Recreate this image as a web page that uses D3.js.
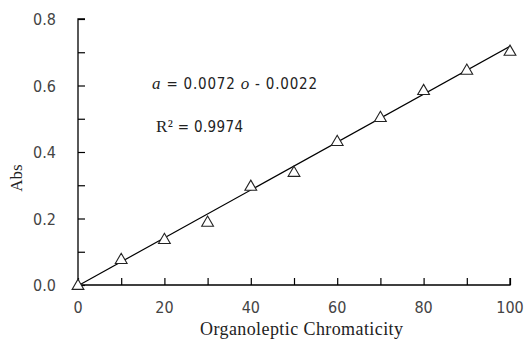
<!DOCTYPE html>
<html>
<head>
<meta charset="utf-8">
<script src="https://cdn.jsdelivr.net/npm/d3@7"></script>
<style>
  body { margin: 0; background: #fff; }
  svg { display: block; }
</style>
</head>
<body>
<svg id="chart" width="525" height="339"></svg>
<script>
// data
var chromaticity = [0, 10, 20, 30, 40, 50, 60, 70, 80, 90, 100];
var absValues = [0.0, 0.078, 0.138, 0.19, 0.298, 0.34, 0.433, 0.505, 0.586, 0.647, 0.704];
var fitSlope = 0.0072;
var fitIntercept = -0.0022;
var xTickLabels = [0, 20, 40, 60, 80, 100];
var yTickLabels = [0.0, 0.2, 0.4, 0.6, 0.8];

var svg = d3.select("#chart");
var margin = {left: 78, right: 15, top: 19, bottom: 54};
var W = 525, H = 339;

var x = d3.scaleLinear().domain([0, 100]).range([margin.left, W - margin.right]);
var y = d3.scaleLinear().domain([0, 0.8]).range([H - margin.bottom, margin.top]);

var tickFont = "'DejaVu Sans Condensed', 'DejaVu Sans', sans-serif";
var serif = "'Liberation Serif', 'DejaVu Serif', serif";

// y axis (ticks inward)
var yAxis = svg.append("g")
    .attr("transform", "translate(" + margin.left + ",0)")
    .call(d3.axisRight(y).tickValues(d3.range(0, 0.81, 0.1)).tickSize(7).tickFormat(""));
yAxis.select(".domain").attr("stroke", "#000").attr("stroke-width", 1.3).attr("d", "M0," + y(0) + "V" + y(0.8) + "h7");

svg.selectAll(".ylab")
    .data(yTickLabels)
    .enter().append("text")
    .attr("class", "ylab")
    .attr("x", margin.left - 22)
    .attr("y", function (d) { return y(d) + 6; })
    .attr("text-anchor", "end")
    .style("font-family", tickFont)
    .style("font-size", "16px")
    .style("fill", "#444")
    .text(function (d) { return d3.format(".1f")(d); });

// x axis (ticks inward)
var xAxis = svg.append("g")
    .attr("transform", "translate(0," + y(0) + ")")
    .call(d3.axisTop(x).tickValues(d3.range(0, 101, 10)).tickSize(7).tickFormat(""));
xAxis.select(".domain").attr("stroke", "#000").attr("stroke-width", 1.3).attr("d", "M" + x(0) + ",0H" + x(100) + "v-7");

svg.selectAll(".xlab")
    .data(xTickLabels)
    .enter().append("text")
    .attr("class", "xlab")
    .attr("x", function (d) { return x(d); })
    .attr("y", y(0) + 28)
    .attr("text-anchor", "middle")
    .style("font-family", tickFont)
    .style("font-size", "16px")
    .style("fill", "#444")
    .text(function (d) { return d; });

svg.selectAll(".tick line").attr("stroke", "#000").attr("stroke-width", 1.2);

// trend line
svg.append("line")
    .attr("x1", x(0)).attr("y1", y(fitIntercept))
    .attr("x2", x(100)).attr("y2", y(fitSlope * 100 + fitIntercept))
    .attr("stroke", "#000")
    .attr("stroke-width", 1.2);

// points as open triangles
var tri = d3.symbol().type(d3.symbolTriangle).size(60);
svg.selectAll(".pt")
    .data(chromaticity)
    .enter().append("path")
    .attr("class", "pt")
    .attr("d", tri)
    .attr("transform", function (d, i) { return "translate(" + x(d) + "," + (y(absValues[i]) + 1) + ")"; })
    .attr("fill", "#fff")
    .attr("stroke", "#222")
    .attr("stroke-width", 1.1);

// equation
var eq = svg.append("text")
    .attr("x", 152).attr("y", 89)
    .attr("textLength", 165)
    .attr("lengthAdjust", "spacing")
    .style("font-family", tickFont)
    .style("font-size", "15px")
    .style("fill", "#222");
eq.append("tspan").style("font-family", serif).style("font-style", "italic").style("font-size", "17px").text("a");
eq.append("tspan").text(" = 0.0072 ");
eq.append("tspan").style("font-family", serif).style("font-style", "italic").style("font-size", "17px").text("o");
eq.append("tspan").text(" - 0.0022");

var r2 = svg.append("text")
    .attr("x", 156).attr("y", 132)
    .attr("textLength", 87)
    .attr("lengthAdjust", "spacing")
    .style("font-family", tickFont)
    .style("font-size", "15px")
    .style("fill", "#222");
r2.append("tspan").style("font-family", serif).style("font-size", "17px").text("R\u00b2");
r2.append("tspan").text(" = 0.9974");

// axis titles
svg.append("text")
    .attr("transform", "translate(22,178) rotate(-90)")
    .attr("text-anchor", "middle")
    .style("font-family", serif)
    .style("font-size", "17px")
    .style("fill", "#222")
    .text("Abs");

svg.append("text")
    .attr("x", 200)
    .attr("y", 335)
    .attr("textLength", 203)
    .attr("lengthAdjust", "spacing")
    .style("font-family", serif)
    .style("font-size", "18px")
    .style("fill", "#222")
    .text("Organoleptic Chromaticity");
</script>
</body>
</html>
